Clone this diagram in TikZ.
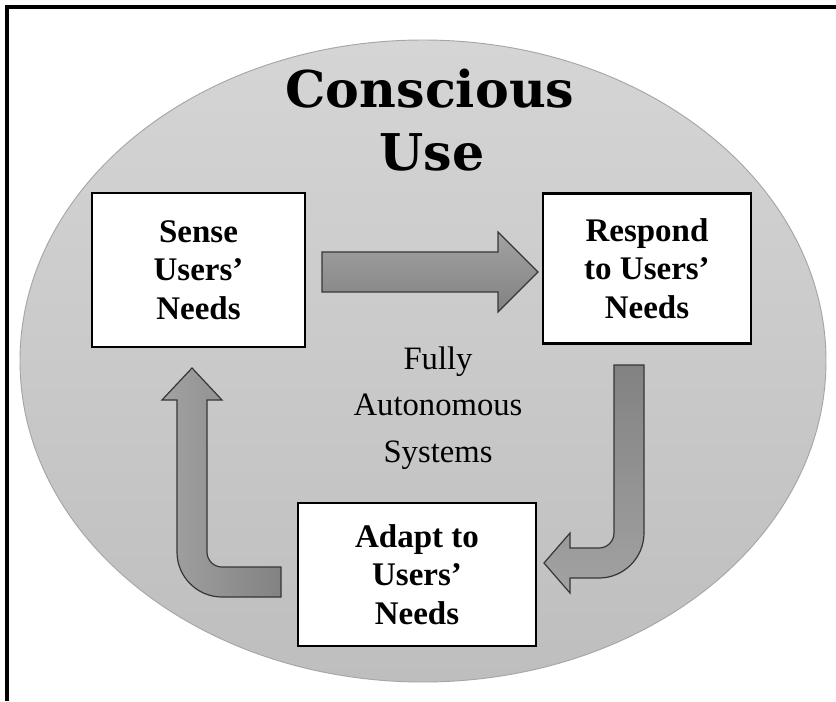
\documentclass[tikz,border=0pt]{standalone}
\usepackage{fontspec}
\setmainfont{Liberation Serif}
\newfontfamily\titlefont{DejaVu Serif}
\definecolor{diskTop}{HTML}{D5D5D5}
\definecolor{diskBot}{HTML}{BEBEBE}
\definecolor{diskLine}{HTML}{A6A6A6}
\definecolor{arrLight}{HTML}{A2A2A2}
\definecolor{arrDark}{HTML}{828282}
\definecolor{arrLine}{HTML}{363636}
\tikzset{
  stagebox/.style={draw=black, line width=2pt, fill=white, align=center, inner sep=0pt,
    font=\bfseries\fontsize{24.75}{29}\selectfont},
  blockarrow/.style={draw=arrLine, line width=0.9pt, line join=miter},
  titletext/.style={font=\titlefont\bfseries\fontsize{38}{47}\selectfont, inner sep=0pt},
  midtext/.style={font=\fontsize{24.5}{35}\selectfont, align=center, inner sep=0pt},
}
\begin{document}
\begin{tikzpicture}[x=0.75pt,y=-0.75pt]
\useasboundingbox (0,0) rectangle (836,701);
\fill[white] (0,0) rectangle (836,701);
% cropped frame
\draw[line width=2.3pt] (7,701) -- (7,7) -- (836,7);
% disk
\path[draw=diskLine, line width=0.7pt, top color=diskTop, bottom color=diskBot]
  (423,361) ellipse [x radius=403, y radius=321];
% title
\node[titletext, anchor=base] (t1) at (430,107) {Conscious};
\node[titletext, anchor=base] (t2) at (432,170) {Use};
% boxes
\node[stagebox, minimum width=159.75pt, minimum height=115.5pt] (sense) at (198.5,270) {Sense\\Users’\\Needs};
\node[stagebox, minimum width=156pt, minimum height=112.5pt] (respond) at (647,268.5) {Respond\\to Users’\\Needs};
\node[stagebox, minimum width=178.5pt, minimum height=107.25pt] (adapt) at (417,574.5) {Adapt to\\Users’\\Needs};
% centre text
\node[midtext] (mid) at (438,408) {Fully\\Autonomous\\Systems};
% arrow sense -> respond
\path[blockarrow, top color=arrLight, bottom color=arrDark]
  (322,252) -- (498,252) -- (498,232) -- (538,272) -- (498,312) -- (498,292) -- (322,292) -- cycle;
% arrow respond -> adapt
\path[blockarrow, top color=arrDark, bottom color=arrLight]
  (614,365) -- (644,365) -- (644,533) .. controls (644,557.8) and (623.8,578) .. (599,578)
  -- (570,578) -- (570,593) -- (544,563) -- (570,533) -- (570,548) -- (599,548)
  .. controls (607.3,548) and (614,541.3) .. (614,533) -- cycle;
% arrow adapt -> sense
\path[blockarrow, left color=arrLight, right color=arrDark]
  (281,567) -- (222,567) .. controls (213.7,567) and (207,560.3) .. (207,552)
  -- (207,400) -- (222,400) -- (192,368) -- (162,400) -- (177,400) -- (177,552)
  .. controls (177,576.8) and (197.2,597) .. (222,597) -- (281,597) -- cycle;
\end{tikzpicture}
\end{document}
